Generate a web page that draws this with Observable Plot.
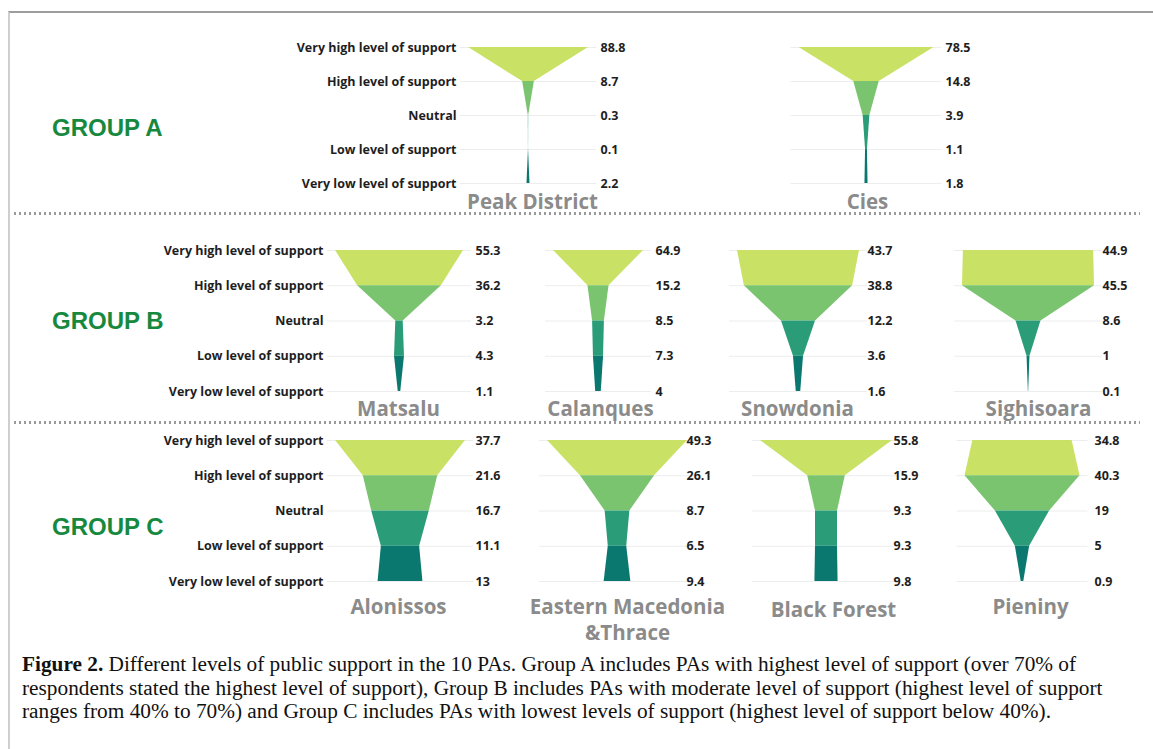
<!DOCTYPE html>
<html><head><meta charset="utf-8">
<script src="https://cdn.jsdelivr.net/npm/d3@7"></script>
<script src="https://cdn.jsdelivr.net/npm/@observablehq/plot@0.6"></script>
<style>
body{margin:0;background:#fff;width:1153px;height:749px;overflow:hidden;position:relative;font-family:"Open Sans",sans-serif}
#frame{position:absolute;left:8px;top:11px;right:-4px;bottom:-4px;border-top:2px solid #9d9d9d;border-left:2px solid #cfcfcf}
#charts{position:absolute;left:0;top:0;width:1153px;height:640px}
#charts svg{position:absolute;left:0;top:0;overflow:visible;background:transparent}
.group{position:absolute;left:52px;font:bold 24px "Liberation Sans",Arial,sans-serif;color:#17893f;line-height:28px;margin-top:-14px}
.dots{position:absolute;left:14px;width:1126px;height:2.5px;background:repeating-linear-gradient(to right,#9a9a9a 0 2.5px,transparent 2.5px 5px)}
#caption{position:absolute;left:22px;top:653px;font:21.3px/23.5px "Liberation Serif","Times New Roman",serif;color:#111;white-space:nowrap}
#caption b{font-weight:bold}
</style></head>
<body>
<div id="frame"></div>
<div class="dots" style="top:212px"></div>
<div class="dots" style="top:421px"></div>
<div id="charts"></div>
<div id="groups"></div>
<div id="caption"></div>
<script>
// ---- data ----
const levels = ["Very high level of support", "High level of support", "Neutral", "Low level of support", "Very low level of support"];
const groupNames = ["GROUP A", "GROUP B", "GROUP C"];
const paNames = ["Peak District", "Cies", "Matsalu", "Calanques", "Snowdonia", "Sighisoara", "Alonissos", "Eastern Macedonia\n&Thrace", "Black Forest", "Pieniny"];
const paGroup = [0, 0, 1, 1, 1, 1, 2, 2, 2, 2];
const peakDistrict = [88.8, 8.7, 0.3, 0.1, 2.2];
const cies = [78.5, 14.8, 3.9, 1.1, 1.8];
const matsalu = [55.3, 36.2, 3.2, 4.3, 1.1];
const calanques = [64.9, 15.2, 8.5, 7.3, 4];
const snowdonia = [43.7, 38.8, 12.2, 3.6, 1.6];
const sighisoara = [44.9, 45.5, 8.6, 1, 0.1];
const alonissos = [37.7, 21.6, 16.7, 11.1, 13];
const easternMacedonia = [49.3, 26.1, 8.7, 6.5, 9.4];
const blackForest = [55.8, 15.9, 9.3, 9.3, 9.8];
const pieniny = [34.8, 40.3, 19, 5, 0.9];
const seriesValues = [peakDistrict, cies, matsalu, calanques, snowdonia, sighisoara, alonissos, easternMacedonia, blackForest, pieniny];
const captionLines = [
  ["Figure 2.", " Different levels of public support in the 10 PAs. Group A includes PAs with highest level of support (over 70% of"],
  ["", "respondents stated the highest level of support), Group B includes PAs with moderate level of support (highest level of support"],
  ["", "ranges from 40% to 70%) and Group C includes PAs with lowest levels of support (highest level of support below 40%)."]
];

// ---- layout (pixels) ----
const segColors = ["#c9e266", "#7ac46f", "#2a9d78", "#0b786f"];
const rowY = [[47, 183], [250, 391], [440, 581]];   // first and last level rows
const groupLabelY = [128, 321, 527];
const centerX = [528, 866, 399, 598, 798, 1028, 400, 617, 826, 1022];
const maxWidth = [120, 135, 128, 90, 122, 132, 130, 140, 132, 115];
const valueX = [600, 945, 475, 655, 867, 1102, 475, 686, 893, 1094];
const showLabels = [true, false, true, false, false, false, true, false, false, false];
const nameDx = [4, 1, -1, 2, -1, 10, -2, 10, 7, 8];
const nameDy = [17, 17, 16, 16, 16, 16, 24, 37, 27, 24];

const charts = document.getElementById("charts");
seriesValues.forEach((vals, k) => {
  const m = d3.max(vals);
  const fw = maxWidth[k], cx = centerX[k];
  const [y0, y4] = rowY[paGroup[k]];
  const ext = m / 2 + 8 * m / fw;
  const segs = [];
  for (let i = 0; i < 4; i++) {
    segs.push({seg: i, idx: i, v: vals[i]}, {seg: i, idx: i + 1, v: vals[i + 1]});
  }
  const marks = [
    Plot.ruleY(d3.range(5), {x1: -ext, x2: ext, stroke: "#ededed", strokeWidth: 1}),
    Plot.areaX(segs, {y: "idx", x1: d => -d.v / 2, x2: d => d.v / 2, z: "seg", fill: "seg", curve: "linear"}),
    Plot.text(vals, {x: m / 2, y: (d, i) => i, text: d => String(d), dx: valueX[k] - (cx + fw / 2), textAnchor: "start", fontWeight: 700, fontSize: 12.5, fill: "#1e1e1e"}),
    Plot.text([paNames[k]], {x: 0, y: 4, text: d => d, dx: nameDx[k], dy: nameDy[k], lineAnchor: "middle", lineHeight: 1.3, fontWeight: 700, fontSize: 20.5, fill: "#8b8b8b"})
  ];
  if (showLabels[k]) {
    marks.push(Plot.text(levels, {x: -m / 2, y: (d, i) => i, text: d => d, dx: -12, textAnchor: "end", fontWeight: 700, fontSize: 12.5, fill: "#1e1e1e"}));
  }
  const svg = Plot.plot({
    width: 1153, height: 640, margin: 0,
    x: {domain: [-m / 2, m / 2], range: [cx - fw / 2, cx + fw / 2], axis: null},
    y: {domain: [0, 4], range: [y0, y4], axis: null},
    color: {type: "ordinal", domain: [0, 1, 2, 3], range: segColors},
    style: {fontFamily: "'Open Sans', sans-serif", background: "transparent", overflow: "visible"},
    marks
  });
  charts.appendChild(svg);
});

const g = document.getElementById("groups");
groupNames.forEach((n, i) => {
  const d = document.createElement("div");
  d.className = "group";
  d.style.top = groupLabelY[i] + "px";
  d.textContent = n;
  g.appendChild(d);
});

const cap = document.getElementById("caption");
captionLines.forEach(([b, t]) => {
  const line = document.createElement("div");
  if (b) { const bb = document.createElement("b"); bb.textContent = b; line.appendChild(bb); }
  line.appendChild(document.createTextNode(t));
  cap.appendChild(line);
});
</script>
</body></html>
